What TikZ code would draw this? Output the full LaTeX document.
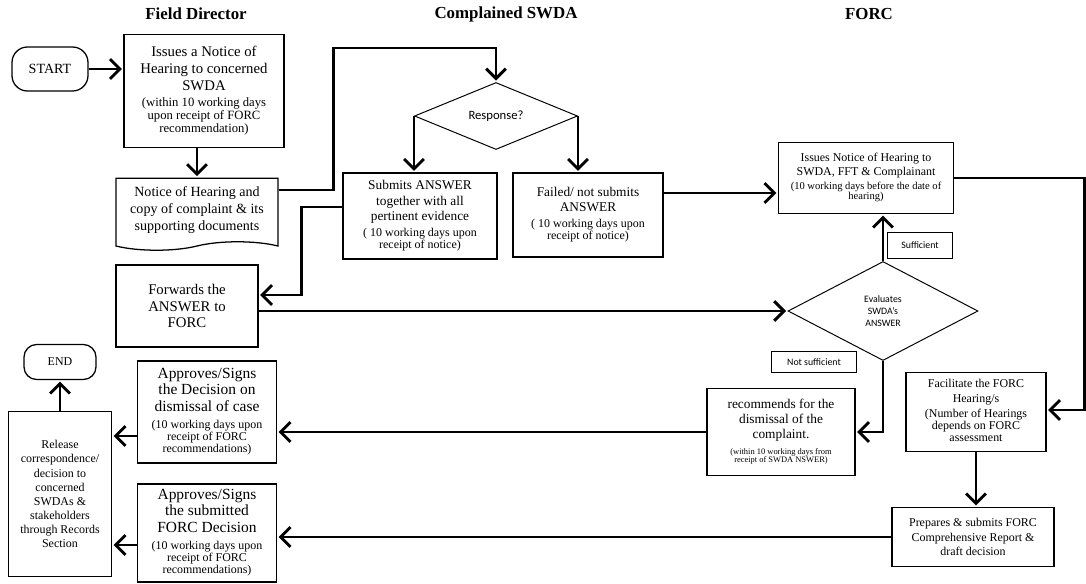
\documentclass[tikz,border=0pt]{standalone}
\usepackage{fontspec}
\setmainfont{Liberation Serif}
\newfontfamily\calibri{Carlito}
\usetikzlibrary{arrows.meta,positioning,shapes.geometric,shapes.symbols}
\newcommand{\smallnote}[2][8]{{\fontsize{#1}{#1}\selectfont\begin{tabular}[t]{@{}c@{}}#2\end{tabular}}}

\begin{document}
\begin{tikzpicture}[shorten >=1pt,node distance=2cm,on grid,
    box/.style={draw,line width=0.9pt,align=center,inner sep=2pt},
    doc/.style={draw,line width=0.9pt,align=center,tape,tape bend top=none,
      tape bend bottom=in and out,tape bend height=6pt},
    decision/.style={draw,line width=0.7pt,diamond,inner sep=0pt,align=center},
    tag/.style={draw,line width=0.5pt,font=\calibri\fontsize{7}{8}\selectfont},
    head/.style={font=\fontsize{12}{14}\selectfont\bfseries},
    flow/.style={-{Straight Barb[length=7pt,width=14pt]},line width=2.1pt}]
\useasboundingbox (0,0) rectangle (27.15,-14.6);

% lane titles
\node[head] (hfd) at (4.9,-0.35) {Field Director};
\node[head] (hswda) at (12.65,-0.35) {Complained SWDA};
\node[head] (hforc) at (21.725,-0.35) {FORC};

% field director
\node[box,rounded corners=11pt,minimum width=1.9cm,minimum height=1.1cm,
  font=\fontsize{10}{12}\selectfont] (start) at (1.25,-1.725) {START};
\node[box,minimum width=4cm,minimum height=2.825cm,font=\fontsize{10.5}{12}\selectfont]
  (issue) [below right=0.55cm and 3.85cm of start]
  {Issues a Notice of\\Hearing to concerned\\SWDA\\
   \smallnote[9]{(within 10 working days\\upon receipt of FORC\\recommendation)}};
\node[doc,minimum width=4.05cm,minimum height=1.8cm,font=\fontsize{10}{12}\selectfont]
  (doc) [below left=2.975cm and 0.175cm of issue]
  {Notice of Hearing and\\copy of complaint \& its\\supporting documents};
\node[box,minimum width=3.55cm,minimum height=2.05cm,font=\fontsize{10.5}{12}\selectfont]
  (fwd) [below left=2.4cm and 0.25cm of doc] {Forwards the\\ANSWER to\\FORC};
\node[box,minimum width=3.475cm,minimum height=2.55cm,font=\fontsize{11}{12}\selectfont]
  (dismiss) [below right=2.65cm and 0.5cm of fwd]
  {Approves/Signs\\the Decision on\\dismissal of case\\
   \smallnote[8.5]{(10 working days upon\\receipt of FORC\\recommendations)}};
\node[box,minimum width=3.475cm,minimum height=2.45cm,font=\fontsize{11}{12}\selectfont]
  (approve) [below=3.025cm of dismiss]
  {Approves/Signs\\the submitted\\FORC Decision\\
   \smallnote[8.5]{(10 working days upon\\receipt of FORC\\recommendations)}};
\node[box,minimum width=2.575cm,minimum height=4.125cm,font=\fontsize{8.5}{10}\selectfont]
  (release) [below left=2.05cm and 3.675cm of dismiss]
  {Release\\correspondence/\\decision to\\concerned\\SWDAs \&\\stakeholders\\through Records\\Section};
\node[box,rounded corners=9pt,minimum width=1.8cm,minimum height=0.875cm,
  font=\fontsize{8.5}{10}\selectfont] (end) [above=3.3cm of release] {END};

% complained swda
\node[decision,minimum width=4.075cm,minimum height=1.675cm,font=\calibri\fontsize{9}{10}\selectfont]
  (response) [below right=0.625cm and 7.3cm of issue] {Response?};
\node[box,minimum width=3.85cm,minimum height=2.15cm,font=\fontsize{9.5}{11}\selectfont]
  (submit) [below left=2.5cm and 1.9cm of response]
  {Submits ANSWER\\together with all\\pertinent evidence\\
   \smallnote[8.5]{( 10 working days upon\\receipt of notice)}};
\node[box,minimum width=3.75cm,minimum height=2.1cm,font=\fontsize{9.5}{11}\selectfont]
  (failed) [below right=2.475cm and 2.3cm of response]
  {Failed/ not submits\\ANSWER\\
   \smallnote[8.5]{( 10 working days upon\\receipt of notice)}};

% forc
\node[box,minimum width=4.375cm,minimum height=1.775cm,font=\fontsize{8.5}{10}\selectfont]
  (hearing) [above right=0.925cm and 6.95cm of failed]
  {Issues Notice of Hearing to\\SWDA, FFT \& Complainant\\
   \smallnote[7.5]{(10 working days before the date of\\hearing)}};
\node[decision,minimum width=4.75cm,minimum height=2.475cm,font=\calibri\fontsize{7}{8.5}\selectfont]
  (evaluate) [below right=3.325cm and 0.425cm of hearing] {Evaluates\\SWDA’s\\ANSWER};
\node[tag,minimum width=1.625cm,minimum height=0.65cm]
  (yes) [above right=1.65cm and 0.925cm of evaluate] {Sufficient};
\node[tag,minimum width=2.125cm,minimum height=0.525cm]
  (no) [below left=1.275cm and 1.725cm of evaluate] {Not sufficient};
\node[box,minimum width=3.7cm,minimum height=2.175cm,font=\fontsize{9.5}{11}\selectfont]
  (recommend) [below left=3.025cm and 2.55cm of evaluate]
  {recommends for the\\dismissal of the\\complaint.\\
   \smallnote[6]{(within 10 working days from\\receipt of SWDA NSWER)}};
\node[box,minimum width=3.5cm,minimum height=1.975cm,font=\fontsize{8.5}{10.5}\selectfont]
  (facilitate) [below right=2.525cm and 2.325cm of evaluate]
  {Facilitate the FORC\\Hearing/s\\
   \smallnote[8.5]{(Number of Hearings\\depends on FORC\\assessment}};
\node[box,minimum width=4.05cm,minimum height=1.475cm,font=\fontsize{8.5}{10.5}\selectfont]
  (prepare) [below left=3.125cm and 0.075cm of facilitate]
  {Prepares \& submits FORC\\Comprehensive Report \&\\draft decision};

\path[flow]
  (start) edge (start -| issue.west)
  (doc.north |- issue.south) edge (doc.north)
  (response.west) edge (response.west |- submit.north)
  (response.east) edge (response.east |- failed.north)
  (evaluate.west -| fwd.east) edge (evaluate.west)
  ([yshift=0.55cm]failed.east) edge ([yshift=0.55cm]failed.east -| hearing.west)
  (evaluate.north) edge (evaluate.north |- hearing.south)
  (facilitate.south) edge (facilitate.south |- prepare.north)
  (recommend.west) edge (recommend.west -| dismiss.east)
  (prepare.west) edge (prepare.west -| approve.east)
  ([yshift=-0.6cm]dismiss.west) edge ([yshift=-0.6cm]dismiss.west -| release.east)
  ([yshift=-0.3cm]approve.west) edge ([yshift=-0.3cm]approve.west -| release.east)
  (end.south |- release.north) edge (end.south);
\draw[flow] ([yshift=0.5cm]doc.east) -- ++(1.375,0) |- ([yshift=0.85cm]response.north) -- (response.north);
\draw[flow] ([yshift=0.225cm]submit.west) -- ++(-1.025,0) |- ([yshift=0.275cm]fwd.east);
\draw[flow] (hearing.east) -- ++(3.25,0) |- ([yshift=0.05cm]facilitate.east);
\draw[flow] (evaluate.south) |- (recommend.east);
\end{tikzpicture}
\end{document}
